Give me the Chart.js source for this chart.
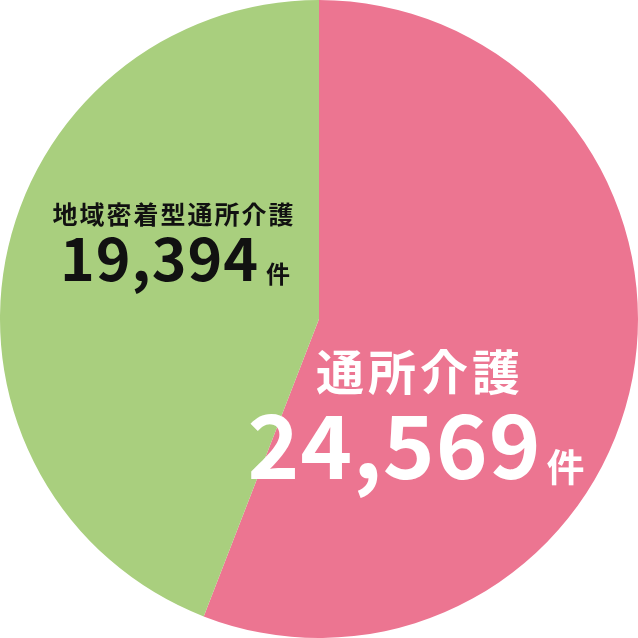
<!DOCTYPE html>
<html><head><meta charset="utf-8">
<script src="https://cdn.jsdelivr.net/npm/chart.js@4"></script>
<style>html,body{margin:0;padding:0;background:#fff}#c{display:block}</style>
</head><body>
<canvas id="c" width="638" height="638"></canvas>
<script>
const categories = ['通所介護', '地域密着型通所介護'];
const counts = [24569, 19394];
const countLabels = ['24,569', '19,394'];
const unit = '件';
const colors = ['#EC7591', '#A9CF7E'];
const textColors = ['#ffffff', '#111111'];

const labelPlugin = {
  id: 'labels',
  afterDraw(chart) {
    const ctx = chart.ctx;
    const meta = chart.getDatasetMeta(0);
    const cx = meta.data[0].x, cy = meta.data[0].y;
    const layout = [
      {nameSize: 48, nameLS: 4, nameX: cx + 101, nameY: cy + 71, numSize: 88, numLS: 1, unitSize: 38, gX: cx + 97, numY: cy + 160, gap: 5},
      {nameSize: 25, nameLS: 2, nameX: cx - 145, nameY: cy - 95, numSize: 59, numLS: 1, unitSize: 24, gX: cx - 144, numY: cy - 38, gap: 7}
    ];
    ctx.save();
    ctx.textBaseline = 'alphabetic';
    categories.forEach((name, i) => {
      const L = layout[i];
      ctx.fillStyle = textColors[i];
      ctx.letterSpacing = L.nameLS + 'px';
      ctx.font = `bold ${L.nameSize}px "Noto Sans CJK JP"`;
      ctx.textAlign = 'center';
      ctx.fillText(name, L.nameX, L.nameY);
      ctx.textAlign = 'left';
      ctx.letterSpacing = L.numLS + 'px';
      ctx.font = `bold ${L.numSize}px "Noto Sans CJK JP"`;
      const wn = ctx.measureText(countLabels[i]).width;
      ctx.font = `bold ${L.unitSize}px "Noto Sans CJK JP"`;
      ctx.letterSpacing = '0px';
      const wu = ctx.measureText(unit).width;
      const x0 = L.gX - (wn + L.gap + wu) / 2;
      ctx.letterSpacing = L.numLS + 'px';
      ctx.font = `bold ${L.numSize}px "Noto Sans CJK JP"`;
      ctx.fillText(countLabels[i], x0, L.numY);
      ctx.letterSpacing = '0px';
      ctx.font = `bold ${L.unitSize}px "Noto Sans CJK JP"`;
      ctx.fillText(unit, x0 + wn + L.gap, L.numY + 2);
    });
    ctx.restore();
  }
};

new Chart(document.getElementById('c'), {
  type: 'pie',
  data: {
    labels: categories,
    datasets: [{ data: counts, backgroundColor: colors, borderWidth: 0, hoverOffset: 0 }]
  },
  options: {
    responsive: false,
    animation: false,
    layout: { padding: 0 },
    plugins: { legend: { display: false }, tooltip: { enabled: false } }
  },
  plugins: [labelPlugin]
});
</script>
</body></html>
